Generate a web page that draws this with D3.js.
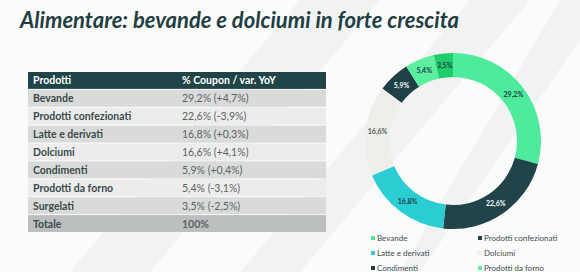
<!DOCTYPE html>
<html>
<head>
<meta charset="utf-8">
<script src="https://cdn.jsdelivr.net/npm/d3@7"></script>
<style>
  body { margin: 0; background: #fbfbfb; }
  svg { display: block; font-family: Lato, "Open Sans", sans-serif; }
</style>
</head>
<body>
<svg id="chart" width="580" height="272"></svg>
<script>
const categories = ["Bevande", "Prodotti confezionati", "Latte e derivati", "Dolciumi",
  "Condimenti", "Prodotti da forno", "Surgelati"];
const shares = [29.2, 22.6, 16.8, 16.6, 5.9, 5.4, 3.5];
const yoy = [4.7, -3.9, 0.3, 4.1, 0.4, -3.1, -2.5];
const headers = ["Prodotti", "% Coupon / var. YoY"];
const totalLabel = ["Totale", "100%"];

const colors = ["#4deb9b", "#21434a", "#29cdd2", "#efeeea", "#1f4047", "#5cef9f", "#1fcd6c"];
const labelColors = ["#1f4047", "#ffffff", "#1f4047", "#4a5a5a", "#ffffff", "#1f4047", "#1f4047"];

const fmt = v => v.toFixed(1).replace(".", ",");
const fmtSigned = v => (v >= 0 ? "+" : "-") + fmt(Math.abs(v)) + "%";

const svg = d3.select("#chart");

// faint diagonal stripes in the background
const stripes = [[300, 0, 380, 0, 150, 272, 70, 272], [470, 0, 530, 0, 300, 272, 240, 272],
  [560, 0, 580, 0, 580, 40, 420, 272, 400, 272]];
svg.append("rect").attr("width", 580).attr("height", 272).attr("fill", "#fbfbfb");
svg.selectAll(".stripe")
  .data(stripes)
  .enter()
  .append("polygon")
  .attr("points", d => d.join(" "))
  .attr("fill", "#f1f2f2");

svg.append("text")
  .attr("x", 20)
  .attr("y", 28)
  .attr("fill", "#1f3f42")
  .style("font-size", "22px")
  .style("font-weight", "bold")
  .style("font-style", "italic")
  .text("Alimentare: bevande e dolciumi in forte crescita");

// table
const rows = [headers].concat(categories.map((c, i) => [c, fmt(shares[i]) + "% (" + fmtSigned(yoy[i]) + ")"]), [totalLabel]);
const tableX = 28, tableW = 298, col2X = 182;
const yRow = d3.scaleBand()
  .domain(d3.range(rows.length))
  .range([72, 233]);

const rowFill = i => i === 0 ? "#1f4548" : i === rows.length - 1 ? "#bcbfbf" : (i % 2 ? "#d9dada" : "#ececec");

const rowG = svg.selectAll(".row")
  .data(rows)
  .enter()
  .append("g")
  .attr("transform", (d, i) => `translate(0, ${yRow(i)})`);

rowG.append("rect")
  .attr("x", tableX)
  .attr("width", tableW)
  .attr("height", yRow.bandwidth() - 1)
  .attr("fill", (d, i) => rowFill(i));

rowG.append("text")
  .attr("x", tableX + 5)
  .attr("y", yRow.bandwidth() / 2 + 3.5)
  .attr("fill", (d, i) => i === 0 ? "#ffffff" : "#3b4b4b")
  .style("font-size", "10.5px")
  .style("font-weight", "bold")
  .text(d => d[0]);

rowG.append("text")
  .attr("x", col2X)
  .attr("y", yRow.bandwidth() / 2 + 3.5)
  .attr("fill", (d, i) => i === 0 ? "#ffffff" : "#5a6464")
  .style("font-size", "10.5px")
  .style("font-weight", (d, i) => i === 0 || i === rows.length - 1 ? "bold" : "normal")
  .text(d => d[1]);

// donut
const cx = 453, cy = 141;
const pie = d3.pie().sort(null).value(d => d);
const arc = d3.arc().innerRadius(64).outerRadius(88);
const labelArc = d3.arc().innerRadius(76).outerRadius(76);

const donut = svg.append("g").attr("transform", `translate(${cx}, ${cy})`);
const slices = pie(shares);

donut.selectAll("path")
  .data(slices)
  .enter()
  .append("path")
  .attr("d", arc)
  .attr("fill", (d, i) => colors[i]);

donut.selectAll(".lbl")
  .data(slices)
  .enter()
  .append("text")
  .attr("transform", d => `translate(${labelArc.centroid(d)})`)
  .attr("text-anchor", "middle")
  .attr("dy", "0.35em")
  .attr("fill", (d, i) => labelColors[i])
  .style("font-size", "7px")
  .style("font-weight", "bold")
  .text(d => fmt(d.data) + "%");

// legend
const legX = d3.scaleOrdinal().domain([0, 1]).range([371, 478]);
const legY = d3.scaleLinear().domain([0, 1]).range([239, 254]);
const leg = svg.selectAll(".leg")
  .data(categories)
  .enter()
  .append("g")
  .attr("transform", (d, i) => `translate(${legX(i % 2)}, ${legY(Math.floor(i / 2))})`);

leg.append("rect")
  .attr("x", 0)
  .attr("y", -3)
  .attr("width", 4)
  .attr("height", 4)
  .attr("fill", (d, i) => colors[i]);

leg.append("text")
  .attr("x", 6)
  .attr("y", 1.5)
  .attr("fill", "#3b4b4b")
  .style("font-size", "8px")
  .text(d => d);
</script>
</body>
</html>
